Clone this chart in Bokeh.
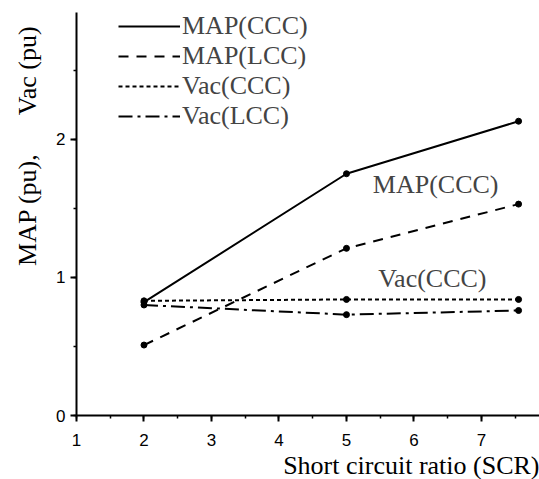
import math
from bokeh.plotting import figure
from bokeh.models import Range1d, Legend, LegendItem, Label, SingleIntervalTicker, Title
from bokeh.embed import file_html
from bokeh.resources import INLINE

scr = [2, 5, 7.55]
map_ccc = [0.82, 1.75, 2.13]
map_lcc = [0.51, 1.21, 1.53]
vac_ccc = [0.83, 0.84, 0.84]
vac_lcc = [0.80, 0.73, 0.76]

series_names = ["MAP(CCC)", "MAP(LCC)", "Vac(CCC)", "Vac(LCC)"]
x_label = "Short circuit ratio (SCR)"
y_label = "MAP (pu),\u00a0\u00a0\u00a0\u00a0\u00a0\u00a0Vac (pu)\u00a0\u00a0"

SERIF = "Liberation Serif"
SANS = "Liberation Sans"

p = figure(width=539, height=479, output_backend="svg", toolbar_location=None,
           x_range=Range1d(1, 7.86), y_range=Range1d(0, 2.917),
           min_border_left=76, min_border_right=0, min_border_top=12, min_border_bottom=63)
p.outline_line_color = None
p.grid.visible = False
p.background_fill_color = "white"

for ax in (p.xaxis[0], p.yaxis[0]):
    ax.ticker = SingleIntervalTicker(interval=1, num_minor_ticks=2)
    ax.axis_line_width = 2
    ax.axis_line_color = "black"
    ax.major_tick_line_width = 2
    ax.major_tick_line_color = "black"
    ax.minor_tick_line_color = "black"
    ax.minor_tick_line_width = 1.5
    ax.major_tick_out = 6
    ax.major_tick_in = 0
    ax.minor_tick_out = 3
    ax.minor_tick_in = 0
    ax.major_label_text_font = SANS
    ax.major_label_text_font_size = "17px"
    ax.major_label_text_color = "black"

p.xaxis[0].major_label_standoff = 12
p.yaxis[0].major_label_standoff = 5

xt = Title(text=x_label, align="right", text_font=SERIF, text_font_size="26px",
           text_font_style="normal", text_color="black", standoff=0, offset=0)
p.add_layout(xt, "below")
yt = Title(text=y_label, align="right", vertical_align="top", text_font=SERIF,
           text_font_size="26px", text_font_style="normal", text_color="black",
           standoff=20, offset=0)
p.add_layout(yt, "left")

styles = [
    (map_ccc, "solid"),
    (map_lcc, "10 8"),
    (vac_ccc, "4 3"),
    (vac_lcc, "14 5 3 5"),
]
items = []
for name, (vals, dash) in zip(series_names, styles):
    r = p.line(scr, vals, line_color="black", line_width=2, line_dash=dash)
    p.scatter(scr, vals, marker="circle", size=6, fill_color="black", line_color="black")
    items.append(LegendItem(label=name, renderers=[r]))

legend = Legend(items=items, location=(42, 284), orientation="vertical",
                glyph_width=62, glyph_height=28, label_height=28, label_standoff=2,
                padding=0, spacing=0, margin=0,
                label_text_font=SERIF, label_text_font_size="26px",
                border_line_color=None, background_fill_alpha=0)
p.add_layout(legend)

p.add_layout(Label(x=5.39, y=1.67, text=series_names[0], text_font=SERIF,
                   text_font_size="26px", text_baseline="middle", text_align="left"))
p.add_layout(Label(x=5.47, y=0.99, text=series_names[2], text_font=SERIF,
                   text_font_size="26px", text_baseline="middle", text_align="left"))

open("out.html", "w").write(file_html(p, INLINE))
